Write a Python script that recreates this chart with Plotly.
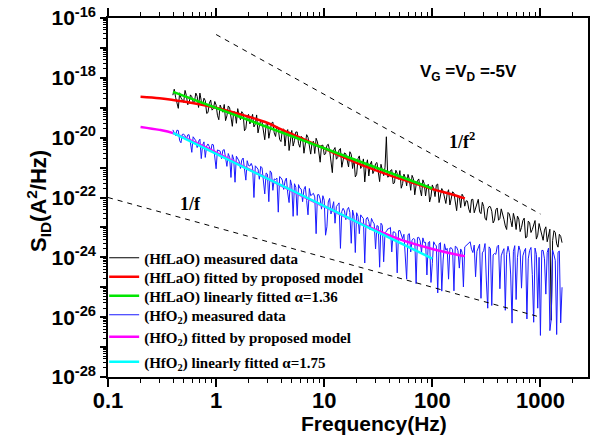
import plotly.graph_objects as go

# ---------------- data ----------------
# sample frequencies (Hz), two interleaved reading grids
freq_a = [0.398, 0.422, 0.447, 0.473, 0.501, 0.531, 0.562, 0.596, 0.631, 0.668,
          0.708, 0.750, 0.794, 0.841, 0.891, 0.944,
          1.0, 1.059, 1.122, 1.189, 1.259, 1.334, 1.413, 1.496, 1.585, 1.679,
          1.778, 1.884, 1.995, 2.113, 2.239, 2.371, 2.512, 2.661, 2.818, 2.985,
          3.162, 3.350, 3.548, 3.758, 3.981, 4.217, 4.467, 4.732, 5.012, 5.309,
          5.623, 5.957, 6.310, 6.683, 7.079, 7.499, 7.943, 8.414, 8.913, 9.441,
          10.0, 10.59, 11.22, 11.89, 12.59, 13.34, 14.13, 14.96, 15.85, 16.79,
          17.78, 18.84, 19.95, 21.13, 22.39, 23.71, 25.12, 26.61, 28.18, 29.85,
          31.62, 33.50, 35.48, 37.58, 39.81, 42.17, 44.67, 47.32, 50.12, 53.09,
          56.23, 59.57, 63.10, 66.83, 70.79, 74.99, 79.43, 84.14, 89.13, 94.41,
          100.0, 105.9, 112.2, 118.9, 125.9, 133.4, 141.3, 149.6, 158.5, 167.9,
          177.8, 188.4, 199.5, 211.3, 223.9, 237.1, 251.2, 266.1, 281.8, 298.5,
          316.2, 335.0, 354.8, 375.8, 398.1, 421.7, 446.7, 473.2, 501.2, 530.9,
          562.3, 595.7, 631.0, 668.3, 707.9, 749.9, 794.3, 841.4, 891.3, 944.1,
          1000.0, 1059.0, 1122.0, 1189.0, 1259.0, 1334.0, 1413.0, 1496.0, 1585.0]
freq_b = [0.410, 0.434, 0.460, 0.487, 0.516, 0.546, 0.579, 0.613, 0.649, 0.688,
          0.729, 0.772, 0.818, 0.866, 0.917, 0.972,
          1.029, 1.090, 1.155, 1.223, 1.296, 1.372, 1.454, 1.540, 1.630, 1.727,
          1.830, 1.939, 2.054, 2.175, 2.304, 2.441, 2.586, 2.738, 2.901, 3.073,
          3.255, 3.447, 3.652, 3.868, 4.097, 4.340, 4.597, 4.870, 5.158, 5.464,
          5.788, 6.131, 6.494, 6.879, 7.286, 7.718, 8.175, 8.660, 9.173, 9.716,
          10.29, 10.90, 11.55, 12.23, 12.96, 13.72, 14.54, 15.40, 16.30, 17.27,
          18.30, 19.39, 20.54, 21.75, 23.04, 24.41, 25.86, 27.38, 29.01, 30.73,
          32.55, 34.47, 36.52, 38.68, 40.97, 43.40, 45.97, 48.70, 51.58, 54.64,
          57.88, 61.31, 64.94, 68.79, 72.86, 77.18, 81.75, 86.60, 91.73, 97.16,
          102.9, 109.0, 115.5, 122.3, 129.6, 137.2, 145.4, 154.0, 163.0, 172.7,
          183.0, 193.9, 205.4, 217.5, 230.4, 244.1, 258.6, 273.8, 290.1, 307.3,
          325.5, 344.7, 365.2, 386.8, 409.7, 434.0, 459.7, 487.0, 515.8, 546.4,
          578.8, 613.1, 649.4, 687.9, 728.6, 771.8, 817.5, 866.0, 917.3, 971.6,
          1029.0, 1090.0, 1155.0, 1223.0, 1296.0, 1372.0, 1454.0, 1540.0]

# log10 of S_ID (A^2/Hz)
hflao_meas_log_a = [
    -18.58, -18.65, -19.02, -18.67, -18.82, -18.59, -18.85, -18.63, -18.79, -18.62,
    -18.51, -18.94, -18.76, -19.16, -18.74, -19.03, -18.91, -19.40, -19.03, -18.89,
    -19.27, -19.00, -19.62, -19.15, -19.03, -19.40, -19.20, -19.69, -19.22, -19.40,
    -19.64, -19.24, -19.61, -19.47, -20.07, -19.48, -19.67, -19.48, -19.96, -19.69,
    -20.13, -19.71, -19.85, -20.43, -19.76, -20.10, -19.81, -20.32, -20.00, -20.18,
    -19.99, -20.55, -20.12, -20.02, -20.45, -20.26, -20.57, -20.26, -20.42, -21.17,
    -20.33, -20.66, -20.36, -20.66, -20.54, -20.98, -20.56, -20.70, -21.23, -20.61,
    -20.95, -21.48, -20.74, -20.90, -21.20, -20.87, -21.13, -20.89, -21.27, -19.97,
    -21.29, -21.07, -21.51, -21.19, -21.10, -21.54, -21.34, -21.23, -21.76, -21.37,
    -21.58, -21.38, -21.95, -21.53, -21.61, -22.15, -21.58, -21.97, -21.55, -21.93,
    -21.79, -22.20, -21.74, -22.02, -21.85, -22.44, -21.97, -21.89, -22.29, -22.12,
    -22.51, -22.06, -22.38, -22.06, -22.54, -22.30, -22.76, -22.30, -22.46, -22.76,
    -22.35, -22.70, -22.52, -22.95, -22.50, -22.77, -22.53, -23.07, -22.72, -23.00,
    -22.69, -23.32, -22.84, -23.07, -22.77, -23.26, -23.04, -23.43, -22.98, -23.29,
    -26.10, -23.11, -23.55, -23.23, -23.51]
hflao_meas_log_b = [
    -18.38, -18.82, -18.50, -18.74, -18.42, -18.90, -18.57, -18.82, -18.51, -18.99,
    -18.77, -18.68, -19.19, -18.85, -19.08, -18.79, -19.25, -18.91, -19.15, -19.43,
    -18.94, -19.35, -19.13, -19.52, -19.25, -19.13, -19.77, -19.28, -19.54, -19.22,
    -19.55, -19.84, -19.42, -19.81, -19.56, -20.02, -19.51, -19.84, -19.63, -20.06,
    -19.74, -20.28, -19.73, -20.00, -20.28, -19.81, -20.20, -19.96, -20.52, -19.90,
    -20.28, -20.17, -20.53, -20.14, -20.82, -20.25, -20.54, -20.22, -20.81, -20.41,
    -20.72, -20.41, -20.99, -20.51, -20.76, -20.47, -21.03, -21.31, -20.70, -21.03,
    -20.71, -20.95, -21.28, -20.79, -21.10, -20.83, -21.47, -21.05, -20.99, -21.32,
    -21.10, -21.54, -21.09, -21.39, -21.69, -21.22, -21.61, -21.39, -21.26, -21.91,
    -21.44, -21.73, -21.41, -21.95, -21.56, -21.96, -21.70, -21.58, -22.17, -21.70,
    -21.98, -21.87, -22.25, -21.81, -22.22, -21.95, -22.34, -21.97, -22.11, -22.39,
    -22.07, -22.51, -22.19, -22.48, -22.16, -22.69, -22.38, -22.31, -22.85, -22.41,
    -22.76, -22.38, -22.73, -23.07, -22.55, -22.98, -22.72, -22.62, -23.14, -22.77,
    -23.35, -22.79, -23.17, -22.91, -23.39, -22.87, -23.26, -23.09, -23.48, -23.06,
    -23.44, -23.17, -23.66, -23.30]

hfo2_meas_log_a = [
    -19.74, -19.93, -19.76, -20.17, -19.88, -20.06, -19.90, -20.49, -20.04, -20.33,
    -20.05, -20.25, -20.66, -20.21, -20.48, -20.24, -21.04, -20.43, -20.70, -20.40,
    -20.96, -20.66, -20.57, -21.49, -20.72, -21.03, -20.68, -21.42, -20.93, -20.86,
    -22.00, -20.99, -21.39, -21.01, -21.88, -21.22, -21.11, -21.76, -21.40, -22.49,
    -21.34, -21.73, -21.35, -22.17, -21.61, -21.54, -22.60, -21.69, -22.14, -21.63,
    -22.58, -21.94, -21.86, -23.21, -21.90, -22.39, -22.09, -22.98, -22.03, -22.32,
    -22.86, -22.24, -23.70, -22.36, -22.74, -22.33, -23.53, -22.62, -22.51, -23.21,
    -22.65, -24.19, -22.66, -23.08, -22.81, -23.72, -22.96, -22.86, -24.15, -23.14,
    -23.04, -23.82, -23.15, -24.52, -23.10, -23.38, -24.21, -23.24, -23.82, -23.37,
    -24.88, -23.33, -23.84, -23.51, -24.59, -23.47, -24.20, -23.57, -25.19, -23.51,
    -24.09, -23.76, -24.73, -23.68, -25.12, -23.66, -24.36, -23.83, -23.65, -23.56,
    -23.48, -23.84, -24.65, -23.66, -25.37, -23.78, -24.79, -23.65, -25.61, -23.87,
    -23.64, -25.05, -23.81, -25.77, -23.63, -24.59, -23.80, -25.41, -23.62, -25.03,
    -23.80, -26.06, -23.77, -24.58, -23.69, -25.70, -26.61, -23.77, -25.23, -23.69,
    -26.06, -23.92, -26.58, -23.79, -25.00]
hfo2_meas_log_b = [
    -19.86, -19.75, -20.10, -19.89, -19.94, -19.91, -20.17, -19.97, -20.10, -20.12,
    -20.70, -20.14, -20.28, -20.30, -20.22, -20.62, -20.41, -20.45, -20.42, -20.74,
    -20.53, -21.33, -20.72, -20.62, -20.78, -20.75, -21.05, -20.77, -20.95, -20.98,
    -20.94, -21.05, -20.96, -21.40, -21.18, -22.14, -21.18, -21.38, -21.35, -21.30,
    -21.42, -21.45, -21.85, -21.41, -22.63, -21.66, -21.57, -21.72, -21.73, -22.10,
    -21.70, -21.90, -21.98, -21.91, -22.05, -21.94, -23.26, -22.15, -22.55, -22.14,
    -22.30, -22.18, -22.47, -22.45, -22.41, -22.50, -22.42, -23.84, -22.63, -22.58,
    -22.70, -22.72, -22.80, -22.70, -22.88, -22.94, -24.33, -22.93, -23.17, -23.05,
    -23.00, -23.15, -23.21, -23.11, -23.25, -23.23, -24.73, -23.21, -23.43, -23.40,
    -23.34, -23.45, -23.35, -23.50, -23.51, -24.84, -23.48, -23.62, -23.55, -25.13,
    -23.55, -23.70, -23.69, -23.75, -23.63, -23.78, -23.72, -24.99, -23.61, -23.52,
    -23.73, -23.59, -23.80, -23.56, -23.85, -23.54, -25.70, -23.71, -23.92, -23.90,
    -23.59, -23.95, -23.71, -23.90, -23.84, -26.20, -23.61, -24.00, -23.78, -23.95,
    -23.70, -24.05, -23.67, -26.17, -23.90, -24.00, -23.77, -24.05, -23.84, -26.45,
    -23.76, -24.10, -23.83, -26.19]

hflao_model_f = [0.2, 0.3, 0.4, 0.5, 0.7, 1, 1.4, 2, 3, 4, 6, 10, 15, 24, 40, 60, 100, 150, 200]
hflao_model_log = [-18.63, -18.68, -18.74, -18.79, -18.88, -19.00, -19.14, -19.30, -19.51, -19.72,
                   -20.00, -20.36, -20.65, -20.96, -21.25, -21.46, -21.72, -21.89, -22.03]
hflao_lin_f = [0.4, 100]
hflao_lin_log = [-18.47, -21.70]

hfo2_model_f = [0.2, 0.3, 0.4, 0.6, 1, 2, 4, 6, 10, 17, 30, 50, 100, 150, 200]
hfo2_model_log = [-19.64, -19.74, -19.85, -20.12, -20.50, -21.05, -21.60, -21.92, -22.30, -22.70,
                  -23.08, -23.40, -23.72, -23.87, -23.96]
hfo2_lin_f = [0.4, 100]
hfo2_lin_log = [-19.84, -24.04]

guide_f2_x = [1, 1000]
guide_f2_y = [2.8e-17, 2.8e-23]
guide_f1_x = [0.1, 1000]
guide_f1_y = [1e-22, 1e-26]

x_tick_vals = [0.1, 1, 10, 100, 1000]
x_tick_text = ["0.1", "1", "10", "100", "1000"]
y_exponents = [-28, -27, -26, -25, -24, -23, -22, -21, -20, -19, -18, -17, -16]

legend_names = [
    "(HfLaO) measured data",
    "(HfLaO) fitted by proposed model",
    "(HfLaO) linearly fitted \u03b1=1.36",
    "(HfO<sub>2</sub>) measured data",
    "(HfO<sub>2</sub>) fitted by proposed model",
    "(HfO<sub>2</sub>) linearly fitted \u03b1=1.75",
]
legend_rows_px = [258, 277, 296, 315, 337, 362]   # vertical centre of each legend row


def lin(vals):
    return [10 ** v for v in vals]


def merged(fa, va, fb, vb):
    pts = sorted(zip(fa + fb, va + vb))
    return [p[0] for p in pts], [10 ** p[1] for p in pts]


hflao_f, hflao_s = merged(freq_a, hflao_meas_log_a, freq_b, hflao_meas_log_b)
hfo2_f, hfo2_s = merged(freq_a, hfo2_meas_log_a, freq_b, hfo2_meas_log_b)

fig = go.Figure()

# guide lines live on an overlaid copy of the axes (which carries the minor ticks)
fig.add_trace(go.Scatter(x=guide_f2_x, y=guide_f2_y, mode="lines", showlegend=False,
                         xaxis="x2", yaxis="y2",
                         line=dict(color="black", width=1, dash="5px,5px"), hoverinfo="skip"))
fig.add_trace(go.Scatter(x=guide_f1_x, y=guide_f1_y, mode="lines", showlegend=False,
                         xaxis="x2", yaxis="y2",
                         line=dict(color="black", width=1, dash="5px,5px"), hoverinfo="skip"))

legend_ids = ["legend", "legend2", "legend3", "legend4", "legend5", "legend6"]

fig.add_trace(go.Scatter(x=hflao_f, y=hflao_s, mode="lines", name=legend_names[0],
                         legend=legend_ids[0], line=dict(color="#000000", width=1)))
fig.add_trace(go.Scatter(x=hflao_model_f, y=lin(hflao_model_log), mode="lines", name=legend_names[1],
                         legend=legend_ids[1], line=dict(color="#ff0000", width=2.5, shape="spline")))
fig.add_trace(go.Scatter(x=hflao_lin_f, y=lin(hflao_lin_log), mode="lines", name=legend_names[2],
                         legend=legend_ids[2], line=dict(color="#00e600", width=2.5)))
fig.add_trace(go.Scatter(x=hfo2_f, y=hfo2_s, mode="lines", name=legend_names[3],
                         legend=legend_ids[3], line=dict(color="#1a1aff", width=1)))
fig.add_trace(go.Scatter(x=hfo2_model_f, y=lin(hfo2_model_log), mode="lines", name=legend_names[4],
                         legend=legend_ids[4], line=dict(color="#ff00ff", width=2.5, shape="spline")))
fig.add_trace(go.Scatter(x=hfo2_lin_f, y=lin(hfo2_lin_log), mode="lines", name=legend_names[5],
                         legend=legend_ids[5], line=dict(color="#00ffff", width=2.5)))

y_tick_vals = [10.0 ** e for e in y_exponents]
y_tick_text = [("10<sup>%d</sup>" % e) if e % 2 == 0 else "" for e in y_exponents]
x_minor = [m * 10.0 ** e for e in range(-1, 4) for m in range(2, 10)]
y_minor = [m * 10.0 ** e for e in range(-28, -16) for m in range(2, 10)]

X_RANGE = [-1, 3.44]
Y_RANGE = [-28, -16]

fig.update_layout(
    xaxis=dict(type="log", range=X_RANGE, showline=True, linecolor="black", linewidth=1.5,
               mirror="ticks", ticks="outside", ticklen=8, tickwidth=1.6, tickcolor="black",
               tickmode="array", tickvals=x_tick_vals, ticktext=x_tick_text,
               ticklabelstandoff=-5, automargin=False,
               tickfont=dict(family="Liberation Sans", size=22, color="black", weight="bold"),
               showgrid=False, zeroline=False),
    yaxis=dict(type="log", range=Y_RANGE, showline=True, linecolor="black", linewidth=1.5,
               mirror=True, ticks="outside", ticklen=6, tickwidth=1.6, tickcolor="black",
               tickmode="array", tickvals=y_tick_vals, ticktext=y_tick_text, automargin=False,
               tickfont=dict(family="Liberation Sans", size=21, color="black", weight="bold"),
               showgrid=False, zeroline=False),
    xaxis2=dict(type="log", range=X_RANGE, overlaying="x", anchor="y2", side="bottom",
                showline=True, linecolor="black", linewidth=1.5, mirror="ticks",
                ticks="outside", ticklen=4, tickwidth=1.2, tickcolor="black",
                tickmode="array", tickvals=x_minor, showticklabels=False, automargin=False,
                showgrid=False, zeroline=False),
    yaxis2=dict(type="log", range=Y_RANGE, overlaying="y", anchor="x2", side="left",
                showline=True, linecolor="black", linewidth=1.5, mirror=True,
                ticks="outside", ticklen=3, tickwidth=1.2, tickcolor="black",
                tickmode="array", tickvals=y_minor, showticklabels=False, automargin=False,
                showgrid=False, zeroline=False),
)

fig.add_annotation(text="Frequency(Hz)", xref="paper", yref="paper", x=0.554, y=-0.13,
                   showarrow=False, xanchor="center", yanchor="middle",
                   font=dict(family="Liberation Sans", size=21, color="black", weight="bold"))
fig.add_annotation(text="S<sub>ID</sub>(A<sup>2</sup>/Hz)", xref="paper", yref="paper",
                   x=-0.146, y=0.49, textangle=-90, showarrow=False,
                   xanchor="center", yanchor="middle",
                   font=dict(family="Liberation Sans", size=22, color="black", weight="bold"))
fig.add_annotation(text="V<sub>G</sub> =V<sub>D</sub> =-5V", xref="paper", yref="paper",
                   x=0.75, y=0.846, showarrow=False, xanchor="center", yanchor="middle",
                   font=dict(family="Liberation Sans", size=17, color="black", weight="bold"))
fig.add_annotation(text="1/f<sup>2</sup>", xref="paper", yref="paper",
                   x=0.737, y=0.658, showarrow=False, xanchor="center", yanchor="middle",
                   font=dict(family="Liberation Serif", size=18, color="black", weight="bold"))
fig.add_annotation(text="1/f", xref="paper", yref="paper",
                   x=0.171, y=0.483, showarrow=False, xanchor="center", yanchor="middle",
                   font=dict(family="Liberation Serif", size=18, color="black", weight="bold"))

plot_top_px, plot_bottom_px = 18, 377
legend_font = dict(family="Liberation Serif", size=15, color="black", weight="bold")
layout_legends = {}
for lid, row in zip(legend_ids, legend_rows_px):
    layout_legends[lid] = dict(
        x=-0.008, y=(plot_bottom_px - row) / (plot_bottom_px - plot_top_px),
        xanchor="left", yanchor="middle", bgcolor="rgba(0,0,0,0)", borderwidth=0,
        itemwidth=30, font=legend_font)

fig.update_layout(
    width=598, height=443,
    margin=dict(l=108, r=10, t=18, b=66),
    paper_bgcolor="white", plot_bgcolor="white",
    showlegend=True,
    **layout_legends,
)

fig.write_html("out.html", config={"displayModeBar": False},
               post_script="document.body.style.margin='0px';")
